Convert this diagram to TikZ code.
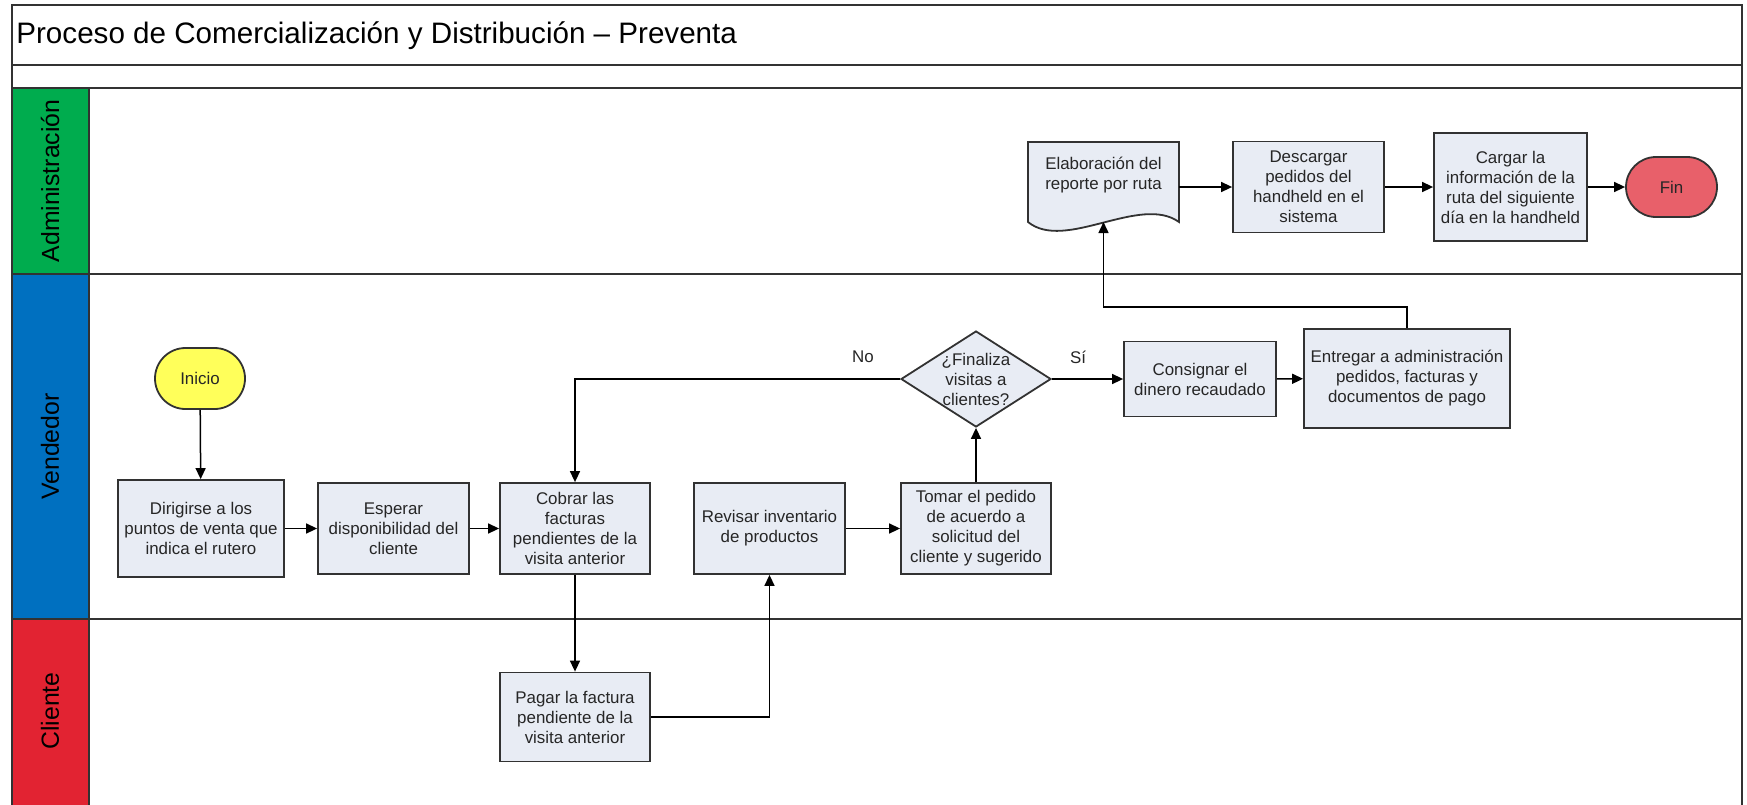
\documentclass[tikz,border=0pt]{standalone}
\usepackage{fontspec}
\setmainfont{Liberation Sans}
\usetikzlibrary{shapes.geometric,shapes.misc,arrows.meta}
\definecolor{boxfill}{RGB}{232,236,244}
\definecolor{edgegray}{RGB}{50,50,50}
\definecolor{admgreen}{RGB}{0,172,78}
\definecolor{venblue}{RGB}{0,112,192}
\definecolor{clired}{RGB}{226,35,50}
\definecolor{startyellow}{RGB}{255,255,90}
\definecolor{endred}{RGB}{232,96,106}
\newcommand\stepfont{\fontsize{8.45}{10}\selectfont}
\newcommand\lanefont{\fontsize{12.4}{14}\selectfont}
\begin{document}
\begin{tikzpicture}[x=0.5pt,y=-0.5pt,
  frameline/.style={draw=edgegray,line width=1pt},
  stepbox/.style={rectangle,draw=edgegray,line width=0.9pt,fill=boxfill,
    align=center,font=\stepfont,inner sep=0pt,text=black!85},
  sz/.style 2 args={minimum width=#1*0.5pt,minimum height=#2*0.5pt},
  term/.style={rounded rectangle,draw=edgegray,line width=0.9pt,
    font=\stepfont,inner sep=0pt,text=black!85},
  decision/.style={diamond,draw=edgegray,line width=0.9pt,fill=boxfill,
    inner sep=0pt},
  plain/.style={align=center,font=\stepfont,inner sep=0pt,text=black!85},
  flow/.style={draw=black,line width=0.75pt,-{Triangle[length=5.5pt,width=5pt]}},
  lane/.style={rotate=90,font=\lanefont,text=black}]
\useasboundingbox (0,0) rectangle (1747,804);

% lane header column
\fill[admgreen] (11.5,88) rectangle (89,274);
\fill[venblue] (11.5,274) rectangle (89,619);
\fill[clired] (11.5,619) rectangle (89,812);

% pool frame and lane separators
\draw[frameline] (11.5,812) -- (11.5,5) -- (1742,5) -- (1742,812);
\draw[frameline] (11.5,65) -- (1742,65);
\draw[frameline] (11.5,88) -- (1742,88);
\draw[frameline] (11.5,274) -- (1742,274);
\draw[frameline] (11.5,619) -- (1742,619);
\draw[frameline] (89,88) -- (89,812);

\node[anchor=base west,font=\fontsize{14.8}{17}\selectfont,inner sep=0pt] (title)
  at (16,43) {Proceso de Comercialización y Distribución – Preventa};

\node[lane] (ladm) at (50,181) {Administración};
\node[lane] (lven) at (50,446.5) {Vendedor};
\node[lane] (lcli) at (50,711) {Cliente};

% Vendedor lane
\node[term,fill=startyellow,sz={90}{61}] (ini) at (200,378.5) {Inicio};
\node[stepbox,sz={166}{97}] (dir) at (201,528.5) {Dirigirse a los\\puntos de venta que\\indica el rutero};
\node[stepbox,sz={151}{91}] (esp) at (393.5,528.5) {Esperar\\disponibilidad del\\cliente};
\node[stepbox,sz={150}{91}] (cob) at (575,528.5) {Cobrar las\\facturas\\pendientes de la\\visita anterior};
\node[stepbox,sz={151}{91}] (rev) at (769.5,528.5) {Revisar inventario\\de productos};
\node[stepbox,sz={150}{91}] (tom) at (976,528.5) {Tomar el pedido\\de acuerdo a\\solicitud del\\cliente y sugerido};
\node[decision,sz={150}{96}] (dia) at (976,379) {};
\node[plain] (diatxt) at (976,379) {¿Finaliza\\visitas a\\clientes?};
\node[stepbox,sz={152}{75}] (con) at (1200,379) {Consignar el\\dinero recaudado};
\node[stepbox,sz={206}{99}] (ent) at (1407,378.5) {Entregar a administración\\pedidos, facturas y\\documentos de pago};
\node[plain] (nolab) at (863,357) {No};
\node[plain] (silab) at (1078,357) {Sí};

% Cliente lane
\node[stepbox,sz={150}{89}] (pag) at (575,717) {Pagar la factura\\pendiente de la\\visita anterior};

% Administración lane: document shape
\node[sz={151}{90},inner sep=0pt] (elab) at (1103.5,187) {};
\filldraw[draw=edgegray,line width=0.9pt,fill=boxfill]
  (1028,222) -- (1028,142) -- (1179,142) -- (1179,222)
  .. controls (1140,194) and (1065,252) .. (1028,222) -- cycle;
\node[plain] (elabtxt) at (1103.5,175) {Elaboración del\\reporte por ruta};
\coordinate (elabin) at (1103.5,222);
\node[stepbox,sz={151}{91}] (des) at (1308.5,187) {Descargar\\pedidos del\\handheld en el\\sistema};
\node[stepbox,sz={153}{108}] (car) at (1510.5,187) {Cargar la\\información de la\\ruta del siguiente\\día en la handheld};
\node[term,fill=endred,sz={91}{60}] (fin) at (1671.5,187) {Fin};

% connectors
\draw[flow] (ini) -- (dir);
\draw[flow] (dir) -- (esp);
\draw[flow] (esp) -- (cob);
\draw[flow] (cob) -- (pag);
\draw[flow] (pag.east) -| (rev.south);
\draw[flow] (rev) -- (tom);
\draw[flow] (tom) -- (dia);
\draw[flow] (dia.west) -| (cob.north);
\draw[flow] (dia.east) -- (con.west);
\draw[flow] (con) -- (ent);
\coordinate (bend) at (0,307);
\draw[flow] (ent.north) -- (ent.north |- bend) -- (elabin |- bend) -- (elabin);
\draw[flow] (elab.east) -- (des.west);
\draw[flow] (des) -- (car);
\draw[flow] (car) -- (fin);
\end{tikzpicture}
\end{document}
